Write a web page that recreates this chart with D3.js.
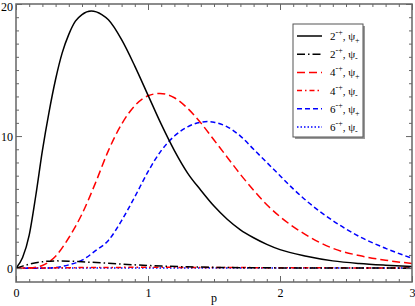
<!DOCTYPE html>
<html><head><meta charset="utf-8">
<script src="https://cdn.jsdelivr.net/npm/d3@7"></script>
<style>body{margin:0;background:#fff}svg{display:block}text{font-family:"Liberation Serif","DejaVu Serif",serif}</style>
</head><body><svg id="c" width="415" height="306"></svg>
<script>
// data (p, value)
const p2plus  = [[0,0],[0.05,0.8],[0.1,2.5],[0.15,5.5],[0.2,8.9],[0.25,11.8],[0.3,14.3],[0.35,16.3],[0.4,17.7],[0.45,18.7],[0.5,19.2],[0.57,19.47],[0.65,19.2],[0.7,18.8],[0.8,17.3],[0.9,15.3],[1.0,13.1],[1.1,10.9],[1.2,8.9],[1.3,7.2],[1.4,5.9],[1.5,4.7],[1.6,3.7],[1.7,2.9],[1.8,2.3],[1.9,1.8],[2.0,1.4],[2.2,0.9],[2.4,0.55],[2.6,0.35],[2.8,0.22],[3.0,0.12]];
const p2minus = [[0,0],[0.05,0.15],[0.1,0.3],[0.2,0.48],[0.3,0.55],[0.4,0.53],[0.5,0.48],[0.7,0.37],[0.9,0.25],[1.1,0.16],[1.3,0.1],[1.5,0.06],[1.8,0.03],[2.2,0.01],[3.0,0]];
const p4plus  = [[0,0],[0.1,0.02],[0.2,0.2],[0.3,0.9],[0.4,2.3],[0.5,4.1],[0.6,6.4],[0.7,8.9],[0.8,10.9],[0.9,12.3],[1.0,13.05],[1.09,13.23],[1.2,12.9],[1.3,12.1],[1.4,11.0],[1.5,9.7],[1.6,8.4],[1.7,7.1],[1.8,5.9],[1.9,4.8],[2.0,3.9],[2.2,2.5],[2.4,1.5],[2.6,0.95],[2.8,0.6],[3.0,0.35]];
const p4minus = [[0,0],[0.3,0.02],[0.6,0.05],[1.0,0.06],[1.5,0.05],[2.0,0.03],[2.5,0.02],[3.0,0.01]];
const p6plus  = [[0,0],[0.2,0],[0.3,0.05],[0.4,0.25],[0.5,0.6],[0.6,1.3],[0.7,2.1],[0.8,3.6],[0.9,5.4],[1.0,7.3],[1.1,8.9],[1.2,10.0],[1.3,10.7],[1.4,11.05],[1.45,11.1],[1.5,11.05],[1.6,10.7],[1.7,10.0],[1.8,9.0],[1.9,8.0],[2.0,7.0],[2.1,6.0],[2.2,5.1],[2.4,3.6],[2.6,2.4],[2.8,1.5],[3.0,0.75]];
const p6minus = [[0,0],[0.5,0.005],[1.0,0.01],[1.5,0.01],[2.0,0.01],[3.0,0.005]];
const legendJ = ["2","2","4","4","6","6"];
const legendSign = ["+","-","+","-","+","-"];
const xTicks = [0,1,2,3];
const yTicks = [0,10,20];

const series = [
  {d:p2plus,  c:"#000", dash:null},
  {d:p2minus, c:"#000", dash:"8,3,1.5,3"},
  {d:p4plus,  c:"#f00", dash:"8,4"},
  {d:p4minus, c:"#f00", dash:"5,3,1.5,3"},
  {d:p6plus,  c:"#00f", dash:"5,3"},
  {d:p6minus, c:"#00f", dash:"1.5,2"}
];

const svg = d3.select("#c");
const x = d3.scaleLinear().domain([0,3]).range([16,412]);
const y = d3.scaleLinear().domain([-1.05,20]).range([282,4]);
const frame = "#666";

const g = svg.append("g");
g.append("clipPath").attr("id","clip").append("rect")
  .attr("x",x(0)).attr("y",y(20)).attr("width",x(3)-x(0)).attr("height",y(-1.05)-y(20));

const line = d3.line().x(d=>x(d[0])).y(d=>y(d[1])).curve(d3.curveMonotoneX);
const plot = g.append("g").attr("clip-path","url(#clip)");
series.slice().reverse().forEach(s=>{
  plot.append("path").attr("d",line(s.d)).attr("fill","none")
    .attr("stroke",s.c).attr("stroke-width",1.5)
    .attr("stroke-dasharray",s.dash);
});

const xMinor = d3.range(0,3.0001,0.1).filter(v=>Math.abs(v-Math.round(v))>1e-6);
const yMinor = d3.range(0,20.0001,1).filter(v=>v%10!==0);
function styleAxis(sel){
  sel.select(".domain").remove();
  sel.selectAll("line").attr("stroke",frame).attr("stroke-width",1);
  sel.selectAll("text").attr("fill","#000").style("font-size","12px").style("font-family","Liberation Serif, serif");
}
const ax = g.append("g").attr("transform",`translate(0,${y(-1.05)})`)
  .call(d3.axisTop(x).tickValues(xTicks).tickSize(6).tickFormat(d3.format("d")));
styleAxis(ax);
ax.selectAll("text").attr("y",15).attr("dy","0");
const axm = g.append("g").attr("transform",`translate(0,${y(-1.05)})`)
  .call(d3.axisTop(x).tickValues(xMinor).tickSize(3).tickFormat(""));
styleAxis(axm);
const axt = g.append("g").attr("transform",`translate(0,${y(20)})`)
  .call(d3.axisBottom(x).tickValues(xTicks).tickSize(6).tickFormat(""));
styleAxis(axt);
const axtm = g.append("g").attr("transform",`translate(0,${y(20)})`)
  .call(d3.axisBottom(x).tickValues(xMinor).tickSize(3).tickFormat(""));
styleAxis(axtm);

const ay = g.append("g").attr("transform",`translate(${x(0)},0)`)
  .call(d3.axisRight(y).tickValues(yTicks).tickSize(6).tickFormat(d3.format("d")));
styleAxis(ay);
ay.selectAll("text").attr("x",-3).attr("text-anchor","end")
  .attr("dy",d=>d===20?"0.55em":"0.35em");
const aym = g.append("g").attr("transform",`translate(${x(0)},0)`)
  .call(d3.axisRight(y).tickValues(yMinor).tickSize(3).tickFormat(""));
styleAxis(aym);
const ayr = g.append("g").attr("transform",`translate(${x(3)},0)`)
  .call(d3.axisLeft(y).tickValues(yTicks).tickSize(6).tickFormat(""));
styleAxis(ayr);
const ayrm = g.append("g").attr("transform",`translate(${x(3)},0)`)
  .call(d3.axisLeft(y).tickValues(yMinor).tickSize(3).tickFormat(""));
styleAxis(ayrm);

g.append("rect").attr("x",x(0)).attr("y",y(20)).attr("width",x(3)-x(0)).attr("height",y(-1.05)-y(20))
  .attr("fill","none").attr("stroke",frame).attr("stroke-width",1.5);

svg.append("text").attr("x",(x(0)+x(3))/2).attr("y",302).attr("text-anchor","middle")
  .style("font-size","12px").text("p");

// legend
const lg = svg.append("g");
lg.append("rect").attr("x",295).attr("y",26).attr("width",70).attr("height",113).attr("fill","#999");
lg.append("rect").attr("x",293).attr("y",24).attr("width",70).attr("height",113)
  .attr("fill","#fff").attr("stroke","#555").attr("stroke-width",1);
series.forEach((s,i)=>{
  const yy = 36 + i*18.2;
  lg.append("line").attr("x1",297).attr("x2",322).attr("y1",yy).attr("y2",yy)
    .attr("stroke",s.c).attr("stroke-width",1.5).attr("stroke-dasharray",s.dash);
  const t = lg.append("text").attr("x",330).attr("y",yy+4).style("font-size","11px");
  t.append("tspan").text(legendJ[i]);
  t.append("tspan").attr("dy",-5).style("font-size","8px").text("-+");
  t.append("tspan").attr("dy",5).text(", \u03C8");
  t.append("tspan").attr("dy",3).style("font-size","8px").text(legendSign[i]);
});
</script></body></html>
